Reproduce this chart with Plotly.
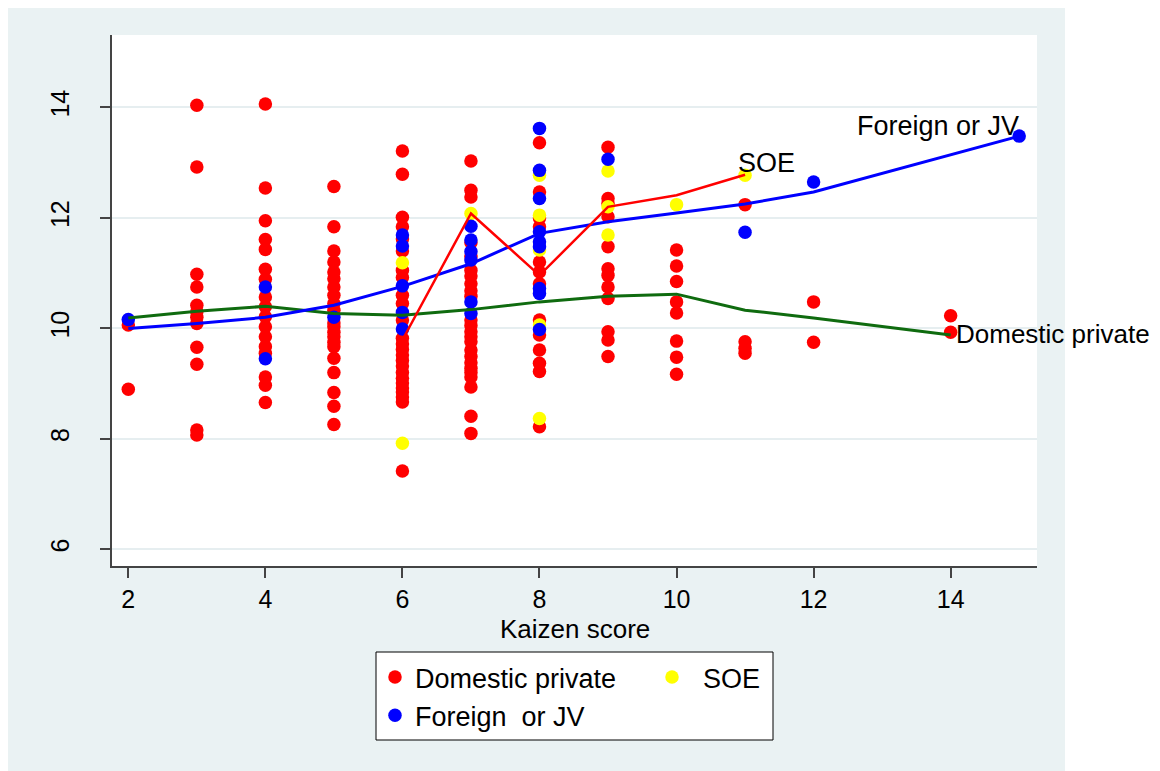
import plotly.graph_objects as go

# ---- data ----
# Domestic private firms: Kaizen score -> values
dp_points = {
    2: [10.06, 8.90],
    3: [14.04, 12.92, 10.98, 10.75, 10.42, 10.30, 10.20, 10.09, 9.66, 9.35, 8.16, 8.07],
    4: [14.06, 12.54, 11.95, 11.61, 11.43, 11.07, 10.89, 10.57, 10.39, 10.21, 10.03, 9.85,
        9.67, 9.55, 9.12, 8.97, 8.66],
    5: [12.57, 11.84, 11.40, 11.20, 11.02, 10.90, 10.75, 10.60, 10.45, 10.33, 10.10, 10.03,
        9.93, 9.85, 9.75, 9.67, 9.46, 9.20, 8.84, 8.59, 8.26],
    6: [13.21, 12.79, 12.01, 11.84, 11.62, 11.40, 11.05, 10.92, 10.60, 10.45, 10.15, 9.82,
        9.72, 9.62, 9.52, 9.42, 9.32, 9.20, 9.10, 9.01, 8.92, 8.85, 8.76, 8.67, 7.42],
    7: [13.03, 12.50, 12.38, 11.55, 11.30, 11.05, 10.95, 10.81, 10.68, 10.58, 10.15, 10.05,
        9.94, 9.85, 9.76, 9.61, 9.49, 9.38, 9.28, 9.20, 9.12, 8.94, 8.41, 8.10],
    8: [13.36, 12.47, 12.00, 11.84, 11.20, 11.02, 10.81, 10.15, 9.88, 9.61, 9.37, 9.22, 8.22],
    9: [13.28, 12.35, 12.26, 12.02, 11.48, 11.08, 10.96, 10.75, 10.54, 9.94, 9.79, 9.49],
    10: [11.42, 11.13, 10.85, 10.48, 10.28, 9.77, 9.48, 9.17],
    11: [12.24, 9.76, 9.64, 9.55],
    12: [10.48, 9.75],
    14: [10.23, 9.93],
}
soe_points = {
    6: [11.19, 7.92],
    7: [12.08],
    8: [12.77, 12.05, 11.42, 10.06, 8.37],
    9: [12.85, 12.20, 11.69],
    10: [12.24],
    11: [12.77],
}
fjv_points = {
    2: [10.16],
    4: [10.75, 9.45],
    5: [10.20],
    6: [11.69, 11.49, 10.77, 10.29, 9.99],
    7: [11.85, 11.60, 11.39, 11.24, 10.48, 10.27],
    8: [13.62, 12.86, 12.35, 11.75, 11.57, 11.48, 10.72, 10.63, 9.98],
    9: [13.06],
    11: [11.74],
    12: [12.65],
    15: [13.48],
}

# fitted lines
dp_line_x = [2, 3, 4, 5, 6, 7, 8, 9, 10, 11, 12, 14]
dp_line_y = [10.19, 10.31, 10.40, 10.27, 10.24, 10.34, 10.48, 10.58, 10.62, 10.33, 10.19, 9.88]
fjv_line_x = [2, 3, 4, 5, 6, 7, 8, 9, 10, 11, 12, 15]
fjv_line_y = [10.00, 10.09, 10.20, 10.42, 10.76, 11.17, 11.72, 11.93, 12.09, 12.25, 12.47, 13.48]
soe_line_x = [6, 7, 8, 9, 10, 11]
soe_line_y = [9.79, 12.08, 10.96, 12.20, 12.41, 12.78]

x_ticks = [2, 4, 6, 8, 10, 12, 14]
y_ticks = [6, 8, 10, 12, 14]

FONT = "Liberation Sans, Arial, Helvetica, sans-serif"
FS = 27     # labels, legend
FST = 25    # tick labels


def flatten(points):
    xs, ys = [], []
    for k, vals in points.items():
        for v in vals:
            xs.append(k)
            ys.append(v)
    return xs, ys


fig = go.Figure()

dpx, dpy = flatten(dp_points)
sx, sy = flatten(soe_points)
fx, fy = flatten(fjv_points)

fig.add_trace(go.Scatter(x=dpx, y=dpy, mode="markers", name="Domestic private",
                         marker=dict(color="#FF0000", size=13.5, line=dict(width=0)),
                         legend="legend"))
fig.add_trace(go.Scatter(x=sx, y=sy, mode="markers", name="SOE",
                         marker=dict(color="#FFFF00", size=13.5, line=dict(width=0)),
                         legend="legend2"))
fig.add_trace(go.Scatter(x=fx, y=fy, mode="markers", name="Foreign  or JV",
                         marker=dict(color="#0000FF", size=13.5, line=dict(width=0)),
                         legend="legend"))

fig.add_trace(go.Scatter(x=dp_line_x, y=dp_line_y, mode="lines", showlegend=False,
                         line=dict(color="#0F6B0F", width=3)))
fig.add_trace(go.Scatter(x=fjv_line_x, y=fjv_line_y, mode="lines", showlegend=False,
                         line=dict(color="#0000FF", width=3)))
fig.add_trace(go.Scatter(x=soe_line_x, y=soe_line_y, mode="lines", showlegend=False,
                         line=dict(color="#FF0000", width=2.5)))

# line labels
fig.add_annotation(x=soe_line_x[-1], y=soe_line_y[-1], text="SOE", showarrow=False,
                   xanchor="left", yanchor="bottom", xshift=-9, yshift=-5,
                   font=dict(family=FONT, size=FS, color="black"))
fig.add_annotation(x=fjv_line_x[-1], y=fjv_line_y[-1], text="Foreign or JV", showarrow=False,
                   xanchor="right", yanchor="bottom", xshift=2, yshift=-7,
                   font=dict(family=FONT, size=FS, color="black"))
fig.add_annotation(x=dp_line_x[-1], y=dp_line_y[-1], text="Domestic private", showarrow=False,
                   xanchor="left", yanchor="middle", xshift=3, yshift=1,
                   font=dict(family=FONT, size=26, color="black"))

# geometry (page pixels; the page body adds an 8px offset)
OFF = 8
W, H = 1160 - OFF, 771 - OFF
L = 112 - OFF
T = 35 - OFF
R = W - (1037 - OFF)
B = H - (566 - OFF)
pw, ph = W - L - R, H - T - B


def px(xpage):
    return (xpage - OFF - L) / pw


def py(ypage):
    return (H - B - (ypage - OFF)) / ph


# x-axis title (placed as text under the tick labels)
fig.add_annotation(xref="paper", yref="paper", x=0.5, y=py(629), text="Kaizen score",
                   showarrow=False, xanchor="center", yanchor="middle",
                   font=dict(family=FONT, size=26, color="black"))

shapes = [
    dict(type="rect", xref="paper", yref="paper", x0=px(8), x1=px(1065), y0=py(771), y1=py(8),
         fillcolor="#EAF2F3", line=dict(width=0), layer="below"),
    dict(type="rect", xref="paper", yref="paper", x0=0, x1=1, y0=0, y1=1,
         fillcolor="white", line=dict(width=0), layer="below"),
    dict(type="rect", xref="paper", yref="paper", x0=px(376), x1=px(773), y0=py(740), y1=py(652),
         fillcolor="white", line=dict(color="black", width=1), layer="below"),
]

fig.update_layout(
    width=W, height=H, autosize=False,
    margin=dict(l=L, r=R, t=T, b=B, pad=0),
    paper_bgcolor="white", plot_bgcolor="white",
    font=dict(family=FONT, size=FS, color="black"),
    shapes=shapes,
    showlegend=True,
    legend=dict(x=px(375), y=py(653), xanchor="left", yanchor="top",
                bgcolor="rgba(0,0,0,0)", borderwidth=0, orientation="v",
                font=dict(family=FONT, size=FS, color="black"),
                tracegroupgap=0, itemsizing="trace"),
    legend2=dict(x=px(641), y=py(653), xanchor="left", yanchor="top",
                 bgcolor="rgba(0,0,0,0)", borderwidth=0, orientation="v",
                 font=dict(family=FONT, size=FS, color="black"), itemsizing="trace",
                 itemwidth=52),
    xaxis=dict(range=[1.762, 15.26], tickvals=x_ticks, ticktext=[str(v) for v in x_ticks],
               showgrid=False, zeroline=False, showline=True, linecolor="#444444", linewidth=1.5,
               ticks="outside", ticklen=10, tickwidth=1.5, tickcolor="#444444",
               ticklabelstandoff=0,
               tickfont=dict(family=FONT, size=FST, color="black")),
    yaxis=dict(range=[5.70, 15.31], tickvals=y_ticks, ticktext=[str(v) for v in y_ticks],
               showgrid=True, gridcolor="#E6EEF0", gridwidth=2, zeroline=False,
               showline=True, linecolor="#444444", linewidth=1.5,
               ticks="outside", ticklen=10, tickwidth=1.5, tickcolor="#444444",
               tickangle=-90, ticklabelstandoff=21,
               tickfont=dict(family=FONT, size=FST, color="black")),
)

fig.write_html("out.html")
